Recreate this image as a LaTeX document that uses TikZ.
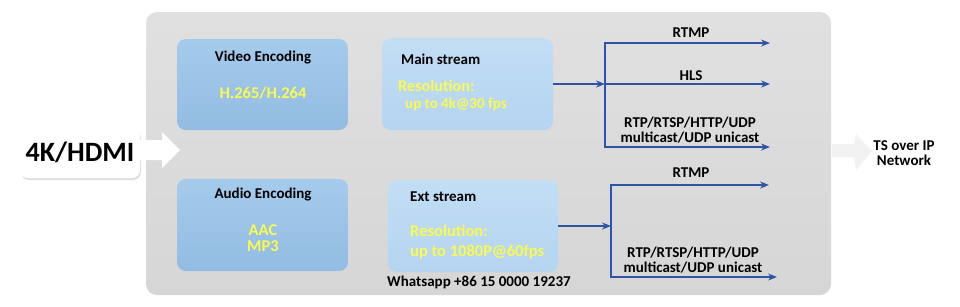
\documentclass[tikz,border=0pt]{standalone}
\usepackage{fontspec}
\setmainfont{Carlito}
\usetikzlibrary{arrows.meta,shadows}
\definecolor{panelgray}{RGB}{214,214,214}
\definecolor{panelgraytop}{RGB}{224,224,224}
\definecolor{encblue}{RGB}{146,188,226}
\definecolor{encbluetop}{RGB}{165,203,236}
\definecolor{strblue}{RGB}{180,212,240}
\definecolor{strbluetop}{RGB}{194,222,245}
\definecolor{txtyellow}{RGB}{250,250,80}
\definecolor{linkblue}{RGB}{46,84,165}
\definecolor{faint}{RGB}{242,242,242}
\tikzset{
  fsz/.style={font=\fontsize{#1}{#1}\selectfont\bfseries},
  lbl/.style={fsz=15, inner sep=0pt, text height=10pt, text depth=3pt},
  ylbl/.style={fsz=#1, inner sep=0pt, text=txtyellow, text height=11pt, text depth=3pt},
  encbox/.style={rounded corners=9pt, top color=encbluetop, bottom color=encblue, draw=none, minimum width=171pt, minimum height=91pt, inner sep=0pt},
  strbox/.style={rounded corners=9pt, top color=strbluetop, bottom color=strblue, draw=none, minimum width=171pt, minimum height=92pt, inner sep=0pt},
  flow/.style={draw=linkblue, line width=1.8pt, -{Stealth[length=9pt,width=7pt]}},
  link/.style={draw=linkblue, line width=1.8pt},
}
\begin{document}
\begin{tikzpicture}[x=1pt,y=-1pt]
\useasboundingbox (0,0) rectangle (960,306);
\fill[white] (0,0) rectangle (960,306);
% panel
\node[rounded corners=11pt, top color=panelgraytop, bottom color=panelgray, minimum width=685pt, minimum height=283pt, inner sep=0pt] (panel) at (488.5,153.5) {};
% input
\node[rounded corners=8pt, fill=white, drop shadow={opacity=0.25, shadow xshift=1pt, shadow yshift=-2pt}, minimum width=120pt, minimum height=50pt, inner sep=0pt, fsz=28] (hdmi) at (80,153) {\raisebox{2pt}{4K/HDMI}};
\fill[white] (140,140) -- (162,140) -- (162,132) -- (180,150) -- (162,168) -- (162,160) -- (140,160) -- cycle;
% output
\fill[faint] (832,144) -- (854,144) -- (856,134) -- (872,151) -- (856,170) -- (854,157) -- (832,157) -- cycle;
\node[fsz=15, align=center, inner sep=0pt] (ts) at (904,153) {\fontsize{15}{18}\selectfont TS over IP\\Network};
% encoders
\node[encbox] (video) at (262.5,84.5) {};
\node[lbl] (videot) at (263,58) {Video Encoding};
\node[ylbl=16.5] (videoc) at (263,94) {H.265/H.264};
\node[encbox, minimum height=92pt] (audio) at (262.5,225) {};
\node[lbl] (audiot) at (263,195) {Audio Encoding};
\node[fsz=16.5, text=txtyellow, align=center, inner sep=0pt] (audioc) at (263,238) {\fontsize{16.5}{20}\selectfont AAC\\MP3};
% streams
\node[strbox] (main) at (467.5,84) {};
\node[lbl, anchor=west] (maint) at (401,61) {Main stream};
\node[ylbl=16.2, anchor=west] (mainr) at (398,87) {Resolution:};
\node[ylbl=15, anchor=west] (mainu) at (405,104) {up to 4k@30 fps};
\node[strbox, minimum width=170pt] (ext) at (473,226) {};
\node[lbl, anchor=west] (extt) at (410,198) {Ext stream};
\node[ylbl=16.5, anchor=west] (extr) at (410,232) {Resolution:};
\node[ylbl=16.5, anchor=west] (extu) at (410,252) {up to 1080P@60fps};
\node[lbl, anchor=west] (wa) at (387,283) {Whatsapp +86 15 0000 19237};
% main stream outputs
\coordinate (j1) at (605,84);
\coordinate (j1t) at (605,43);
\coordinate (j1b) at (605,147);
\coordinate (o1) at (770,43);
\coordinate (o2) at (770,84);
\coordinate (o3) at (770,147);
\draw[flow] (main.east) -- (j1);
\draw[link] (j1t) -- (j1b);
\draw[flow] ([xshift=-0.9pt]j1t) -- (o1);
\draw[flow] (j1) -- (o2);
\draw[flow] ([xshift=-0.9pt]j1b) -- (o3);
\node[lbl] (l1) at (691,34) {RTMP};
\node[lbl] (l2) at (691,77) {HLS};
\node[fsz=15, align=center, inner sep=0pt] (l3) at (690,130.5) {\fontsize{15}{17}\selectfont RTP/RTSP/HTTP/UDP\\multicast/UDP unicast};
% ext stream outputs
\coordinate (j2) at (611,226);
\coordinate (j2t) at (611,185);
\coordinate (j2b) at (611,277);
\coordinate (p1) at (769,185);
\coordinate (p2) at (777,277);
\draw[flow] (ext.east) -- (j2);
\draw[link] (j2t) -- (j2b);
\draw[flow] ([xshift=-0.9pt]j2t) -- (p1);
\draw[flow] ([xshift=-0.9pt]j2b) -- (p2);
\node[lbl] (m1) at (691,174) {RTMP};
\node[fsz=15, align=center, inner sep=0pt] (m2) at (693,260) {\fontsize{15}{18}\selectfont RTP/RTSP/HTTP/UDP\\multicast/UDP unicast};
\end{tikzpicture}
\end{document}
